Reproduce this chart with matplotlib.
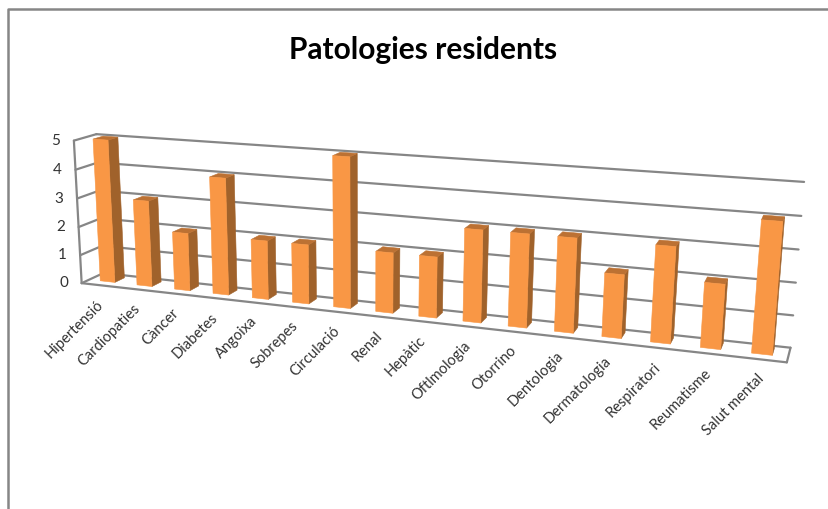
import numpy as np
import matplotlib
matplotlib.use('Agg')
import matplotlib.pyplot as plt

categories = ['Hipertensió', 'Cardiopaties', 'Càncer', 'Diabetes', 'Angoixa', 'Sobrepes',
              'Circulació', 'Renal', 'Hepàtic', 'Oftlmologia', 'Otorrino', 'Dentologia',
              'Dermatologia', 'Respiratori', 'Reumatisme', 'Salut mental']
values = [5, 3, 2, 4, 2, 2, 5, 2, 2, 3, 3, 3, 2, 3, 2, 4]
y_ticks = [0, 1, 2, 3, 4, 5]
title = 'Patologies residents'

GRID = '#868686'
FRONT = '#F99745'
SIDE = '#A0622B'
TOP = '#BC7133'
TEXT = '#333333'

# corners of the 3d box seen in the chart: (along, value, depth) -> pixel
box_corners = [
    ((0, 5, 0), (98, 134)), ((0, 0, 0), (101.7, 274)),
    ((1, 5, 0), (804, 182)), ((1, 0, 0), (790.7, 346.7)),
    ((0, 5, 1), (72.3, 140.7)), ((0, 0, 1), (83.3, 282.3)),
    ((1, 0, 1), (786.7, 363.3)),
]


def fit_camera(corners):
    rows, rhs = [], []
    for (u, v, d), (px, py) in corners:
        rows.append([u, v, d, 1, 0, 0, 0, 0, -px * u, -px * v, -px * d])
        rows.append([0, 0, 0, 0, u, v, d, 1, -py * u, -py * v, -py * d])
        rhs += [px, py]
    sol = np.linalg.lstsq(np.array(rows, float), np.array(rhs, float), rcond=None)[0]
    return np.append(sol, 1).reshape(3, 4)


cam = fit_camera(box_corners)


def proj(u, v, d):
    p = cam @ np.array([u, v, d, 1.0])
    return p[0] / p[2], p[1] / p[2]


def line(ax, a, b, lw=1.6):
    pa, pb = proj(*a), proj(*b)
    ax.plot([pa[0], pb[0]], [pa[1], pb[1]], color=GRID, lw=lw, solid_capstyle='round', zorder=1)


def face(ax, pts, color, z):
    ax.fill(*zip(*[proj(*p) for p in pts]), facecolor=color, edgecolor=color, lw=0.4, zorder=z)


fig = plt.figure(figsize=(8.29, 5.09), dpi=100)
ax = fig.add_axes([0, 0, 1, 1])
ax.set_xlim(0, 829)
ax.set_ylim(509, 0)
ax.axis('off')
plt.rcParams['font.family'] = ['Lato', 'DejaVu Sans']

# chart frame
ax.plot([8, 8, 829], [509, 9, 9], color=GRID, lw=1.8, zorder=1)

ax.text(423, 50, title, fontsize=21.5, fontweight='bold', color='black', ha='center', va='center')

# walls
for t in y_ticks:
    line(ax, (0, t, 1), (0, t, 0))
    line(ax, (0, t, 0), (1, t, 0))
    x, y = proj(0, t, 1)
    ax.text(x - 18, y, str(t), fontsize=11, color=TEXT, ha='center', va='center')
line(ax, (0, 0, 1), (0, 5, 1))
line(ax, (0, 0, 1), (1, 0, 1))
line(ax, (1, 0, 1), (1, 0, 0))

# bars
n = len(values)
half = 0.2 / n
d_front, d_back = 0.65, 0.2
for i, val in enumerate(values):
    c = (i + 0.5) / n
    l, r = c - half, c + half
    face(ax, [(r, 0, d_front), (r, 0, d_back), (r, val, d_back), (r, val, d_front)], SIDE, 3)
    face(ax, [(l, val, d_front), (r, val, d_front), (r, val, d_back), (l, val, d_back)], TOP, 3)
    face(ax, [(l, 0, d_front), (r, 0, d_front), (r, val, d_front), (l, val, d_front)], FRONT, 4)
    x, y = proj(c, 0, 1)
    ax.text(x + 1, y + 17, categories[i], fontsize=10.5, color=TEXT, rotation=45,
            ha='right', va='center', rotation_mode='anchor')

fig.savefig('out.png', dpi=100)
